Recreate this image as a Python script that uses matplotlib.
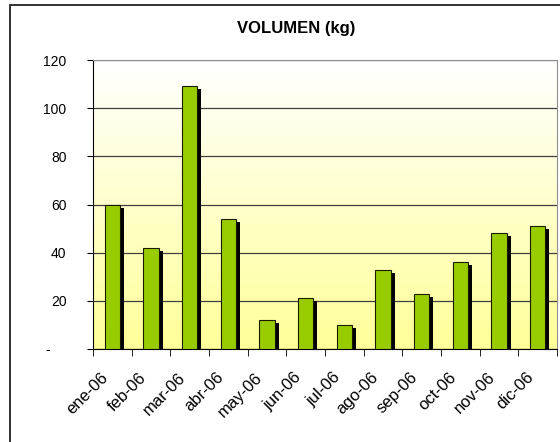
import numpy as np
import matplotlib.pyplot as plt
import matplotlib.transforms as mtransforms
from matplotlib.patches import Rectangle

plt.rcParams['font.family'] = ['Liberation Sans', 'DejaVu Sans']

months = ['ene-06', 'feb-06', 'mar-06', 'abr-06', 'may-06', 'jun-06',
          'jul-06', 'ago-06', 'sep-06', 'oct-06', 'nov-06', 'dic-06']
volumen = [60, 42, 109, 54, 12, 21, 10, 33, 23, 36, 48, 51]
y_ticks = [0, 20, 40, 60, 80, 100, 120]
y_labels = ['-    ', '20', '40', '60', '80', '100', '120']

fig = plt.figure(figsize=(5.6, 4.42), dpi=100)
ax = fig.add_axes([93/560, 1 - 349/442, 464/560, 289/442])

x = np.arange(len(months))

# fondo degradado blanco -> amarillo
grad = np.linspace(0, 1, 256).reshape(-1, 1)
top = np.array([1.0, 1.0, 1.0])
bot = np.array([1.0, 1.0, 0.6])
img = top + (bot - top) * grad[:, :, None] * np.ones((1, 1, 3))
ax.imshow(img, extent=[0, 1, 0, 1], transform=ax.transAxes, aspect='auto',
          zorder=0, origin='upper')

# sombra de las barras
shadow = mtransforms.offset_copy(ax.transData, fig=fig, x=4, y=-3, units='dots')
ax.bar(x, volumen, width=0.4, color='black', transform=shadow, zorder=2)
ax.bar(x, volumen, width=0.4, color='#99CC00', edgecolor='#1a1a00',
       linewidth=0.8, zorder=3)

ax.set_xlim(-0.5, len(months) - 0.5)
ax.set_ylim(0, 120)
ax.set_yticks(y_ticks)
ax.set_yticklabels(y_labels, fontsize=10)
ax.yaxis.grid(True, color='#404040', linewidth=0.9, zorder=1)
ax.set_axisbelow(True)
ax.tick_params(axis='y', length=4, pad=15, color='black')

ax.set_xticks(x)
ax.set_xticklabels(months, fontsize=12, rotation=45, ha='right',
                   rotation_mode='anchor')
ax.set_xticks(np.arange(-0.5, len(months)), minor=True)
ax.tick_params(axis='x', which='major', length=0, pad=15)
ax.tick_params(axis='x', which='minor', length=5, color='black')

shift = mtransforms.ScaledTranslation(-12/100, 0, fig.dpi_scale_trans)
for t in ax.xaxis.get_major_ticks():
    t.label1.set_transform(t.label1.get_transform() + shift)

for s in ['top', 'right']:
    ax.spines[s].set_color('#909090')
for s in ['left', 'bottom']:
    ax.spines[s].set_color('black')

fig.text(296/560, 1 - 29/442, 'VOLUMEN (kg)', ha='center', va='center',
         fontsize=12, fontweight='bold')

fig.patches.append(Rectangle((10/560, -0.1), 1.0, 1.1 - 5/442,
                             transform=fig.transFigure, fill=False,
                             edgecolor='#222222', linewidth=1.3))

fig.savefig('out.png', dpi=100)
